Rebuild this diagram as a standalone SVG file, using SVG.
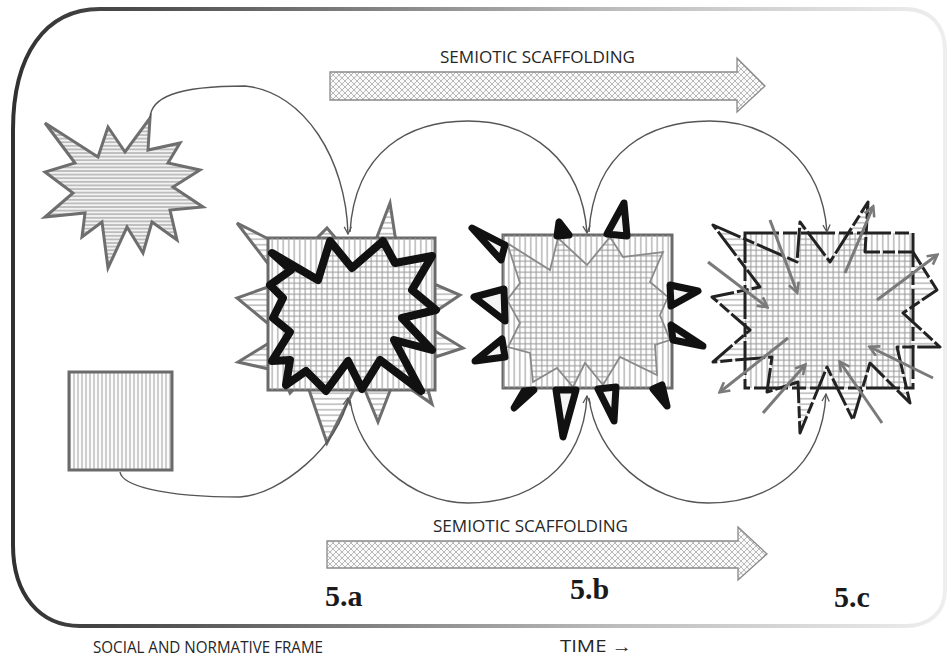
<svg xmlns="http://www.w3.org/2000/svg" width="951" height="657" viewBox="0 0 951 657">
  <style>
    .lbl { font-family: "Open Sans", "Liberation Sans", sans-serif; font-size: 16px; fill: #262626; }
    .num { font-family: "Liberation Serif", "DejaVu Serif", serif; font-size: 30px; font-weight: bold; fill: #1a1a1a; }
    .conn { fill: none; stroke: #555; stroke-width: 1.4; }
    .spiky { stroke: #6e6e6e; stroke-width: 3; stroke-linejoin: miter; }
    .box { stroke: #6a6a6a; stroke-width: 3; }
    .thick { stroke: #111; stroke-width: 8; stroke-linejoin: round; }
    .tri { stroke: #111; stroke-width: 7; stroke-linejoin: round; }
    .ray { fill: none; stroke: #7a7a7a; stroke-width: 3; }
    .scaf { fill: url(#xh); stroke: #8a8a8a; stroke-width: 1.3; }
  </style>
  <defs>
    <linearGradient id="frameGrad" gradientUnits="userSpaceOnUse" x1="0" y1="0" x2="951" y2="0">
      <stop offset="0" stop-color="#2e2e2e"/>
      <stop offset="0.3" stop-color="#6e6e6e"/>
      <stop offset="0.65" stop-color="#bdbdbd"/>
      <stop offset="1" stop-color="#efefef"/>
    </linearGradient>
    <!-- fine horizontal stripes for the lone star -->
    <pattern id="hs" width="8" height="3.6" patternUnits="userSpaceOnUse">
      <rect width="8" height="3.6" fill="#f2f2f2"/>
      <path d="M0,1.8H8" stroke="#a2a2a2" stroke-width="1.2"/>
    </pattern>
    <!-- fine vertical stripes for the lone square -->
    <pattern id="vs" width="4" height="8" patternUnits="userSpaceOnUse">
      <rect width="4" height="8" fill="#fbfbfb"/>
      <path d="M2,0V8" stroke="#b0b0b0" stroke-width="1.2"/>
    </pattern>
    <!-- coarser stripes, transparent, overlapping into a grid -->
    <pattern id="hf" width="8" height="5.5" patternUnits="userSpaceOnUse">
      <path d="M0,2.75H8" stroke="#9c9c9c" stroke-width="1.1"/>
    </pattern>
    <pattern id="vf" width="5.5" height="8" patternUnits="userSpaceOnUse">
      <path d="M2.75,0V8" stroke="#9c9c9c" stroke-width="1.1"/>
    </pattern>
    <!-- diamond cross-hatch for the scaffolding arrows -->
    <pattern id="xh" width="6" height="6" patternUnits="userSpaceOnUse">
      <rect width="6" height="6" fill="#fafafa"/>
      <path d="M0,0L6,6M6,0L0,6" stroke="#a8a8a8" stroke-width="0.8"/>
    </pattern>
    <marker id="head" viewBox="0 0 10 10" refX="9" refY="5" markerWidth="9" markerHeight="9" markerUnits="userSpaceOnUse" orient="auto">
      <path d="M1,1 L9,5 L1,9" fill="none" stroke="#555" stroke-width="1.4"/>
    </marker>
    <marker id="rayhead" viewBox="0 0 10 10" refX="8" refY="5" markerWidth="13" markerHeight="13" markerUnits="userSpaceOnUse" orient="auto">
      <path d="M1,1 L8.5,5 L1,9" fill="none" stroke="#7a7a7a" stroke-width="2"/>
    </marker>
  </defs>

  <rect width="951" height="657" fill="#ffffff"/>

  <!-- social and normative frame -->
  <g id="frame">
    <path d="M13,130 C13,55 45,9 100,9 L905,9 C930,9 945,25 945,50 L945,590 C945,612 930,626 905,626 L80,626 C40,626 13,595 13,545 Z" fill="none" stroke="url(#frameGrad)" stroke-width="4"/>
    <text class="lbl" x="93" y="653" font-size="14.5" textLength="230" lengthAdjust="spacingAndGlyphs">SOCIAL AND NORMATIVE FRAME</text>
    <text class="lbl" x="560" y="652" font-size="14.5" textLength="72" lengthAdjust="spacingAndGlyphs">TIME →</text>
  </g>

  <!-- scaffolding arrows -->
  <g id="scaffold-top">
    <path class="scaf" d="M330,72 H737 V58 L765,86 L737,112 V100 H330 Z"/>
    <text class="lbl" x="440" y="63" textLength="195" lengthAdjust="spacingAndGlyphs">SEMIOTIC SCAFFOLDING</text>
  </g>
  <g id="scaffold-bottom">
    <path class="scaf" d="M327,541 H738 V527 L767,554 L738,580 V568 H327 Z"/>
    <text class="lbl" x="433" y="532" textLength="195" lengthAdjust="spacingAndGlyphs">SEMIOTIC SCAFFOLDING</text>
  </g>

  <!-- lone star -->
  <g id="node-star">
    <polygon class="spiky" fill="url(#hs)" points="45,123 98,157 108,127 125,152 150,118 148,150 180,143 168,163 200,170 173,187 203,207 170,210 177,240 152,222 143,253 127,227 108,268 102,222 82,237 85,213 45,217 73,193 45,172 75,163"/>
  </g>

  <!-- lone square -->
  <g id="node-square">
    <rect class="box" x="69" y="372" width="103" height="98" fill="url(#vs)"/>
  </g>

  <!-- stage 5.a -->
  <g id="node-5a">
    <polygon class="spiky" fill="url(#hf)" points="237,223 300,255 327,228 350,255 372,250 390,203 398,255 420,278 460,295 420,322 463,348 420,362 432,404 395,378 378,422 360,378 327,443 305,378 290,393 282,372 238,362 282,335 237,298 282,282"/>
    <rect class="box" x="268" y="238" width="167" height="152" fill="#fff"/>
    <rect x="268" y="238" width="167" height="152" fill="url(#vf)"/>
    <polygon class="thick" fill="url(#hf)" points="272,253 318,280 330,241 352,268 383,241 395,263 432,256 412,290 436,310 402,318 432,350 394,340 421,391 380,360 362,389 348,361 326,391 306,371 286,385 290,360 272,361 290,332 273,318 283,298 270,285 291,270"/>
    <text class="num" x="325" y="606">5.a</text>
  </g>

  <!-- stage 5.b -->
  <g id="node-5b">
    <rect class="box" x="503" y="235" width="169" height="153" fill="#fff"/>
    <rect x="503" y="235" width="169" height="153" fill="url(#vf)"/>
    <polygon fill="url(#hf)" stroke="#8a8a8a" stroke-width="1.8" points="507,243 550,270 558,238 587,265 610,237 623,257 663,252 650,282 668,297 660,315 670,340 655,345 657,375 620,357 603,385 585,363 573,387 557,368 533,382 530,353 508,347 520,323 507,300 520,283"/>
    <g>
      <polygon class="tri" fill="#f4f4f4" points="472,228 505,245 501,260"/>
      <polygon class="tri" fill="#111" points="559,222 557,236 569,235"/>
      <polygon class="tri" fill="#f4f4f4" points="624,203 607,234 627,236"/>
      <polygon class="tri" fill="#f4f4f4" points="474,297 504,289 505,321"/>
      <polygon class="tri" fill="#f4f4f4" points="475,361 502,339 505,357"/>
      <polygon class="tri" fill="#f4f4f4" points="698,291 670,285 671,306"/>
      <polygon class="tri" fill="#f4f4f4" points="703,346 671,325 673,340"/>
      <polygon class="tri" fill="#111" points="514,408 524,391 534,390"/>
      <polygon class="tri" fill="#f4f4f4" points="563,437 556,390 576,390"/>
      <polygon class="tri" fill="#f4f4f4" points="614,421 598,389 616,387"/>
      <polygon class="tri" fill="#111" points="667,406 653,389 662,385"/>
    </g>
    <text class="num" x="570" y="599">5.b</text>
  </g>

  <!-- stage 5.c -->
  <g id="node-5c">
    <rect x="745" y="233" width="168" height="155" fill="#fff"/>
    <rect x="745" y="233" width="168" height="155" fill="url(#vf)"/>
    <polygon fill="url(#hf)" stroke="#222" stroke-width="3" stroke-dasharray="30 3 12 3" stroke-linejoin="round" points="713,225 797,262 800,222 830,262 868,202 865,252 913,252 937,290 903,313 940,347 897,347 910,403 870,363 853,420 827,367 800,433 798,382 767,392 772,357 713,362 750,330 712,297 760,287"/>
    <rect x="745" y="233" width="168" height="155" fill="none" stroke="#222" stroke-width="3" stroke-dasharray="34 4 14 4"/>
    <g>
      <line class="ray" x1="708" y1="262" x2="767" y2="307" marker-end="url(#rayhead)"/>
      <line class="ray" x1="770" y1="220" x2="797" y2="292" marker-end="url(#rayhead)"/>
      <line class="ray" x1="845" y1="273" x2="873" y2="207" marker-end="url(#rayhead)"/>
      <line class="ray" x1="877" y1="300" x2="937" y2="255" marker-end="url(#rayhead)"/>
      <line class="ray" x1="933" y1="378" x2="870" y2="347" marker-end="url(#rayhead)"/>
      <line class="ray" x1="882" y1="423" x2="840" y2="362" marker-end="url(#rayhead)"/>
      <line class="ray" x1="763" y1="413" x2="805" y2="365" marker-end="url(#rayhead)"/>
      <line class="ray" x1="788" y1="338" x2="720" y2="392" marker-end="url(#rayhead)"/>
    </g>
    <text class="num" x="834" y="607">5.c</text>
  </g>

  <!-- connectors -->
  <g id="connectors">
    <path class="conn" d="M150,118 C151,98 175,86 245,86 C305,92 346,160 348,234" marker-end="url(#head)"/>
    <path class="conn" d="M350,232 C355,150 410,121 468,121 C530,121 582,160 587,233" marker-end="url(#head)"/>
    <path class="conn" d="M589,232 C594,150 650,121 710,121 C770,121 822,160 827,232" marker-end="url(#head)"/>
    <path class="conn" d="M120,472 C122,485 160,497 240,497 C280,495 340,445 348,398" marker-end="url(#head)"/>
    <path class="conn" d="M350,400 C358,455 410,503 468,503 C528,503 583,470 587,396" marker-end="url(#head)"/>
    <path class="conn" d="M589,398 C596,455 650,503 708,503 C768,503 822,470 826,394" marker-end="url(#head)"/>
  </g>
</svg>
